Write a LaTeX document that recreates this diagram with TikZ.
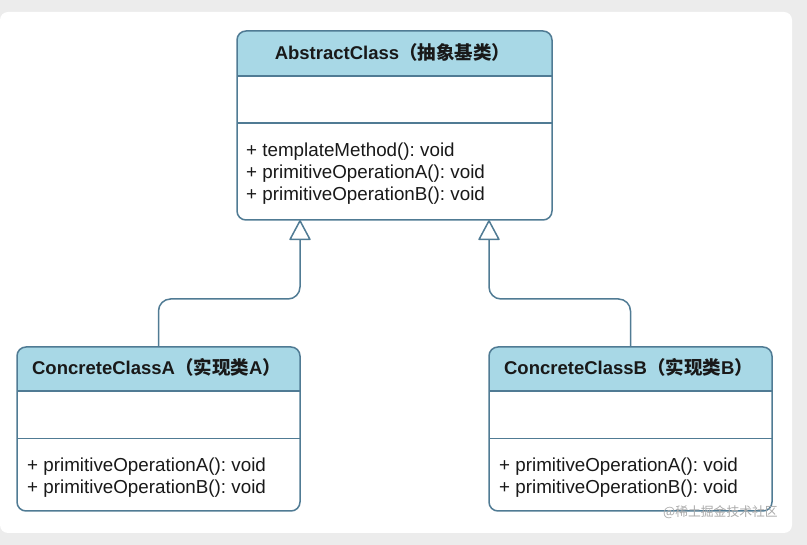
\documentclass[tikz,border=0pt]{standalone}
\usepackage{fontspec}
\setmainfont{Liberation Sans}
\newfontfamily\cjk{Noto Sans CJK SC}
\usetikzlibrary{arrows.meta,calc}
\frenchspacing
\definecolor{strokec}{RGB}{80,123,148}
\definecolor{hdrc}{RGB}{168,216,230}
\definecolor{bgc}{RGB}{236,236,236}
\definecolor{wmc}{RGB}{170,170,170}
\definecolor{txtc}{RGB}{25,25,25}
\tikzset{
 outline/.style={draw=strokec, line width=1.5pt, rounded corners=9pt},
 sep/.style={draw=strokec, line width=1.4pt},
 classbox/.style={draw=none, inner sep=0pt, outer sep=0pt, anchor=north west},
 titletxt/.style={font=\fontsize{18.5}{22}\selectfont\bfseries, text=txtc, inner sep=0pt, anchor=base},
 methtxt/.style={font=\fontsize{18.8}{22}\selectfont, text=txtc, inner sep=0pt, anchor=base west},
 conn/.style={draw=strokec, line width=1.5pt, rounded corners=12pt, -{Triangle[open, length=21pt, width=22pt, round=false]}},
}
\begin{document}
\begin{tikzpicture}[x=1pt,y=-1pt]
\useasboundingbox (0,0) rectangle (807,545);
\fill[bgc] (0,0) rectangle (807,545);
\fill[white, rounded corners=8pt] (0,12) rectangle (792,533);

% Abstract class
\node[classbox, minimum width=315pt, minimum height=189pt] (abs) at (237,31) {};
\begin{scope}
\clip[rounded corners=9pt] (abs.north west) rectangle (abs.south east);
\fill[hdrc] (abs.north west) rectangle ($(abs.north east)+(0,45)$);
\end{scope}
\draw[sep] ($(abs.north west)+(0,45)$) -- ($(abs.north east)+(0,45)$);
\draw[sep] ($(abs.north west)+(0,92)$) -- ($(abs.north east)+(0,92)$);
\draw[outline] (abs.north west) rectangle (abs.south east);
\node[titletxt] (absT) at ($(abs.north)+(-2,28.5)$) {AbstractClass{\cjk （抽象基类）}};
\node[methtxt] (absM1) at ($(abs.north west)+(9,126)$) {+ templateMethod(): void};
\node[methtxt] (absM2) at ($(abs.north west)+(9,148)$) {+ primitiveOperationA(): void};
\node[methtxt] (absM3) at ($(abs.north west)+(9,170)$) {+ primitiveOperationB(): void};

% Concrete class A
\node[classbox, minimum width=283pt, minimum height=164pt] (A) at (17,347) {};
\begin{scope}
\clip[rounded corners=9pt] (A.north west) rectangle (A.south east);
\fill[hdrc] (A.north west) rectangle ($(A.north east)+(0,44)$);
\end{scope}
\draw[sep] ($(A.north west)+(0,44)$) -- ($(A.north east)+(0,44)$);
\draw[sep] ($(A.north west)+(0,91.5)$) -- ($(A.north east)+(0,91.5)$);
\draw[outline] (A.north west) rectangle (A.south east);
\node[titletxt] (AT) at ($(A.north)+(-2,28)$) {ConcreteClassA{\cjk （实现类}A{\cjk ）}};
\node[methtxt] (AM1) at ($(A.north west)+(10,125)$) {+ primitiveOperationA(): void};
\node[methtxt] (AM2) at ($(A.north west)+(10,147)$) {+ primitiveOperationB(): void};

% Concrete class B
\node[classbox, minimum width=283pt, minimum height=164pt] (B) at (489,347) {};
\begin{scope}
\clip[rounded corners=9pt] (B.north west) rectangle (B.south east);
\fill[hdrc] (B.north west) rectangle ($(B.north east)+(0,44)$);
\end{scope}
\draw[sep] ($(B.north west)+(0,44)$) -- ($(B.north east)+(0,44)$);
\draw[sep] ($(B.north west)+(0,91.5)$) -- ($(B.north east)+(0,91.5)$);
\draw[outline] (B.north west) rectangle (B.south east);
\node[titletxt] (BT) at ($(B.north)+(-2,28)$) {ConcreteClassB{\cjk （实现类}B{\cjk ）}};
\node[methtxt] (BM1) at ($(B.north west)+(10,125)$) {+ primitiveOperationA(): void};
\node[methtxt] (BM2) at ($(B.north west)+(10,147)$) {+ primitiveOperationB(): void};

% Generalisation connectors
\coordinate (abssA) at ($(abs.south west)+(63,0)$);
\coordinate (abssB) at ($(abs.south east)+(-63,0)$);
\draw[conn] (A.north) -- ++(0,-48) -| (abssA);
\draw[conn] (B.north) -- ++(0,-48) -| (abssB);

% watermark
\node[font=\cjk\fontsize{12.8}{15}\selectfont, text=wmc, anchor=base west, inner sep=0pt] (wm) at (663,516.5) {@稀土掘金技术社区};
\end{tikzpicture}
\end{document}
